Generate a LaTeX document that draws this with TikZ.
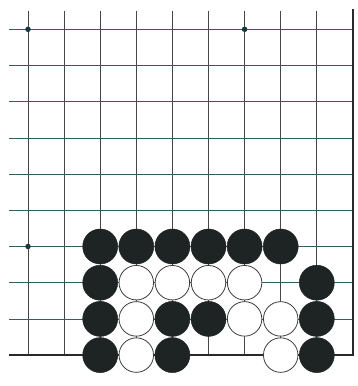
\documentclass[tikz,border=0pt]{standalone}
\definecolor{vgridc}{RGB}{70,72,72}
\definecolor{hgridc}{RGB}{55,95,90}
\definecolor{edgec}{RGB}{40,42,42}
\definecolor{stoneb}{RGB}{30,36,36}
\definecolor{wline}{RGB}{60,62,62}
\definecolor{starc}{RGB}{25,55,60}
\begin{document}
\begin{tikzpicture}[x=1pt,y=-1pt,
  vline/.style={line width=0.7pt, draw=vgridc},
  hline/.style={line width=0.7pt, draw=hgridc},
  boardedge/.style={line width=2.4pt, draw=edgec},
  bstone/.style={circle, fill=stoneb, draw=stoneb, line width=0.5pt, minimum size=35pt, inner sep=0pt},
  wstone/.style={circle, fill=white, draw=wline, line width=0.8pt, minimum size=34.5pt, inner sep=0pt},
  starpt/.style={circle, fill=starc, inner sep=0pt, minimum size=5.5pt}]
\useasboundingbox (0,0) rectangle (358,386);
\fill[white] (0,0) rectangle (358,386);
% grid
\foreach \i in {0,...,8} \draw[vline] ({28+36.1*\i},11) -- ({28+36.1*\i},355);
\foreach \j in {0,...,8} \draw[hline] (9,{29.3+36.2*\j}) -- (353,{29.3+36.2*\j});
% edges
\coordinate (bl) at (9,355);
\coordinate (br) at (353,355);
\coordinate (tr) at (353,10);
\draw[boardedge] (bl) -- (br);
\draw[boardedge, line cap=rect] (tr) -- (br);
% star points
\foreach \i/\j [count=\k] in {0/0,6/0,0/6}
  \node[starpt] (h\k) at ({28+36.1*\i},{29.3+36.2*\j}) {};
% stones
\foreach \i/\j/\c in {2/6/bstone,3/6/bstone,4/6/bstone,5/6/bstone,6/6/bstone,7/6/bstone,
  2/7/bstone,3/7/wstone,4/7/wstone,5/7/wstone,6/7/wstone,8/7/bstone,
  2/8/bstone,3/8/wstone,4/8/bstone,5/8/bstone,6/8/wstone,7/8/wstone,8/8/bstone,
  2/9/bstone,3/9/wstone,4/9/bstone,7/9/wstone,8/9/bstone}
  \node[\c] (s\i\j) at ({28+36.1*\i},{29.3+36.2*\j}) {};
\end{tikzpicture}
\end{document}
